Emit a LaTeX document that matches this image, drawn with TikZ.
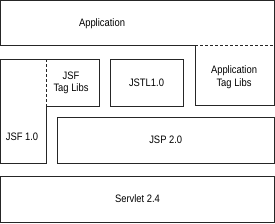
\documentclass[tikz,border=0pt]{standalone}
\usepackage{fontspec}
\setmainfont{Liberation Sans}[FakeStretch=0.87]
\usepackage{tikz}
\usetikzlibrary{positioning}
\tikzset{
  layer/.style={rectangle, draw=black!85, line width=0.9pt, text centered, inner sep=0pt},
  outline/.style={draw=black!85, line width=0.9pt},
  split/.style={draw=black!85, line width=0.6pt, dash pattern=on 3pt off 2pt},
  layertext/.style={align=center, inner sep=0pt}
}

\begin{document}
\begin{tikzpicture}[x=1pt, y=-1pt, every node/.style={font=\fontsize{10.8}{12.5}\selectfont}]
    \useasboundingbox (0,0) rectangle (275,223);

    % Application
    \draw [outline] (0.5,0.5) -- (274.5,0.5) -- (274.5,105) -- (195,105) -- (195,45) -- (0.5,45) -- cycle;
    \draw [split] (195,45) -- (274.5,45);
    \node (app) [layertext] at (102,24) {Application};
    \node (apptags) [layertext] at (234,77) {Application\\Tag Libs};

    % JSF
    \draw [outline] (0.5,59) -- (99,59) -- (99,106) -- (46,106) -- (46,163) -- (0.5,163) -- cycle;
    \draw [split] (46,59) -- (46,106);
    \node (jsftags) [layertext] at (71,83) {JSF\\Tag Libs};
    \node (jsf) [layertext] at (22,137) {JSF 1.0};

    \node (jstl) [layer, minimum width=73pt, minimum height=47pt] at (146.5,82.5) {JSTL1.0};
    \node (jsp) [layer, minimum width=217.5pt, minimum height=46pt] at (165.75,140) {JSP 2.0};
    \node (servlet) [layer, minimum width=274pt, minimum height=46pt] at (137.5,199) {Servlet 2.4};

\end{tikzpicture}
\end{document}
